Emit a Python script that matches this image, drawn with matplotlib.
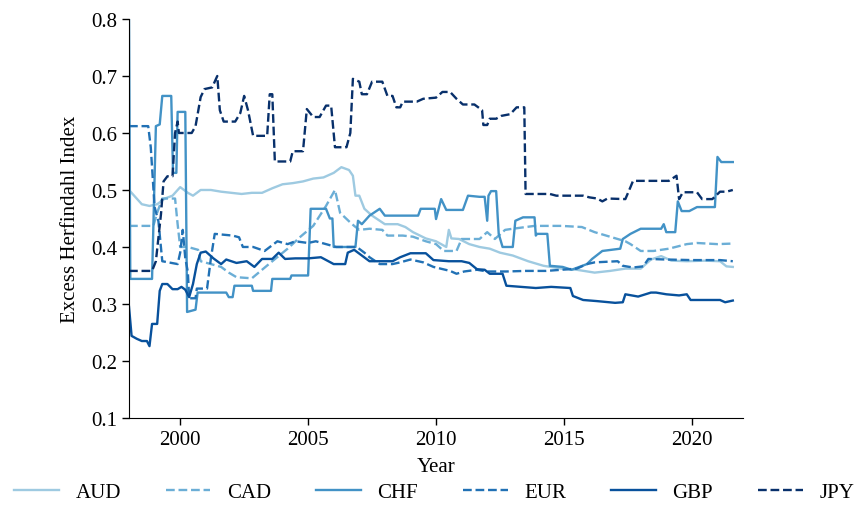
import numpy as np
import matplotlib.pyplot as plt

plt.rcParams['font.family'] = ['Liberation Serif', 'DejaVu Serif']

# (year, excess Herfindahl index) per currency
aud = [(1998.0, 0.50), (1998.3, 0.485), (1998.5, 0.475), (1998.8, 0.472), (1999.1, 0.475),
       (1999.4, 0.485), (1999.7, 0.49), (2000.0, 0.505), (2000.3, 0.495), (2000.5, 0.49),
       (2000.8, 0.50), (2001.2, 0.50), (2001.6, 0.497), (2002.0, 0.495), (2002.4, 0.493),
       (2002.8, 0.495), (2003.2, 0.495), (2003.6, 0.503), (2004.0, 0.51), (2004.4, 0.512),
       (2004.8, 0.515), (2005.2, 0.52), (2005.6, 0.522), (2006.0, 0.53), (2006.3, 0.54),
       (2006.6, 0.535), (2006.75, 0.525), (2006.85, 0.49), (2007.0, 0.49), (2007.2, 0.467),
       (2007.5, 0.455), (2008.0, 0.44), (2008.5, 0.44), (2008.8, 0.435), (2009.1, 0.426),
       (2009.6, 0.415), (2010.0, 0.41), (2010.4, 0.40), (2010.5, 0.43), (2010.6, 0.415),
       (2010.9, 0.414), (2011.3, 0.405), (2011.7, 0.40), (2012.1, 0.397), (2012.5, 0.39),
       (2013.0, 0.385), (2013.6, 0.375), (2014.2, 0.367), (2014.9, 0.362), (2015.5, 0.36),
       (2016.2, 0.355), (2016.8, 0.358), (2017.4, 0.362), (2018.0, 0.362), (2018.4, 0.378),
       (2018.8, 0.384), (2019.2, 0.376), (2019.8, 0.375), (2020.5, 0.376), (2021.1, 0.375),
       (2021.35, 0.366), (2021.6, 0.365)]

cad = [(1998.0, 0.437), (1998.95, 0.437), (1999.1, 0.46), (1999.3, 0.485), (1999.8, 0.485),
       (1999.9, 0.44), (2000.0, 0.40), (2000.3, 0.40), (2000.7, 0.395), (2000.8, 0.375),
       (2001.2, 0.37), (2001.6, 0.365), (2001.9, 0.355), (2002.2, 0.347), (2002.8, 0.345),
       (2003.2, 0.36), (2003.6, 0.375), (2004.2, 0.397), (2004.7, 0.418), (2005.2, 0.437),
       (2005.7, 0.472), (2006.05, 0.50), (2006.25, 0.46), (2006.6, 0.445), (2006.8, 0.437),
       (2007.0, 0.43), (2007.4, 0.432), (2007.9, 0.43), (2008.1, 0.42), (2008.7, 0.42),
       (2009.1, 0.418), (2009.6, 0.41), (2010.0, 0.405), (2010.3, 0.393), (2010.8, 0.393),
       (2011.0, 0.414), (2011.7, 0.414), (2012.0, 0.426), (2012.3, 0.414), (2012.7, 0.43),
       (2013.0, 0.432), (2013.85, 0.437), (2014.9, 0.437), (2015.7, 0.435), (2016.2, 0.426),
       (2016.8, 0.418), (2017.4, 0.41), (2017.6, 0.405), (2018.0, 0.393), (2018.5, 0.393),
       (2019.1, 0.397), (2019.8, 0.405), (2020.2, 0.407), (2021.0, 0.405), (2021.6, 0.406)]

chf = [(1998.0, 0.80), (1998.05, 0.344), (1998.9, 0.344), (1999.05, 0.612), (1999.2, 0.615),
       (1999.3, 0.665), (1999.65, 0.665), (1999.72, 0.53), (1999.85, 0.53), (1999.9, 0.637),
       (2000.2, 0.637), (2000.27, 0.286), (2000.6, 0.29), (2000.68, 0.32), (2001.8, 0.32),
       (2001.9, 0.312), (2002.05, 0.312), (2002.12, 0.332), (2002.8, 0.332), (2002.85, 0.323),
       (2003.55, 0.323), (2003.6, 0.344), (2004.3, 0.344), (2004.35, 0.35), (2005.0, 0.35),
       (2005.1, 0.467), (2005.7, 0.467), (2005.85, 0.45), (2005.95, 0.45), (2006.0, 0.40),
       (2006.85, 0.40), (2006.95, 0.446), (2007.1, 0.44), (2007.4, 0.455), (2007.8, 0.467),
       (2008.0, 0.455), (2009.3, 0.455), (2009.4, 0.467), (2009.95, 0.467), (2010.0, 0.449),
       (2010.2, 0.484), (2010.4, 0.465), (2011.05, 0.465), (2011.25, 0.49), (2011.7, 0.488),
       (2011.9, 0.488), (2012.0, 0.446), (2012.05, 0.49), (2012.15, 0.498), (2012.35, 0.498),
       (2012.45, 0.423), (2012.6, 0.40), (2013.0, 0.40), (2013.1, 0.446), (2013.4, 0.452),
       (2013.85, 0.452), (2013.9, 0.42), (2013.95, 0.423), (2014.35, 0.423), (2014.45, 0.367),
       (2014.95, 0.365), (2015.3, 0.36), (2015.9, 0.37), (2016.1, 0.379), (2016.5, 0.393),
       (2017.2, 0.397), (2017.3, 0.414), (2017.6, 0.423), (2018.0, 0.432), (2018.8, 0.432),
       (2018.9, 0.44), (2019.0, 0.426), (2019.35, 0.426), (2019.45, 0.48), (2019.6, 0.463),
       (2019.9, 0.463), (2020.2, 0.47), (2020.9, 0.47), (2021.0, 0.558), (2021.15, 0.549),
       (2021.6, 0.549)]

eur = [(1998.0, 0.612), (1998.75, 0.612), (1998.85, 0.575), (1999.0, 0.47), (1999.15, 0.445),
       (1999.3, 0.375), (1999.9, 0.37), (2000.0, 0.39), (2000.1, 0.43), (2000.2, 0.38),
       (2000.3, 0.356), (2000.35, 0.31), (2000.6, 0.31), (2000.65, 0.327), (2001.05, 0.327),
       (2001.2, 0.38), (2001.35, 0.423), (2002.05, 0.42), (2002.3, 0.417), (2002.45, 0.40),
       (2002.85, 0.40), (2003.3, 0.393), (2003.8, 0.41), (2004.2, 0.405), (2004.5, 0.41),
       (2005.0, 0.407), (2005.3, 0.41), (2005.7, 0.405), (2006.1, 0.40), (2006.9, 0.40),
       (2007.2, 0.39), (2007.4, 0.382), (2007.8, 0.37), (2008.3, 0.37), (2008.6, 0.373),
       (2009.0, 0.378), (2009.5, 0.373), (2009.9, 0.365), (2010.55, 0.358), (2010.8, 0.353),
       (2011.1, 0.357), (2011.6, 0.36), (2012.0, 0.357), (2012.75, 0.357), (2013.5, 0.358),
       (2014.3, 0.358), (2014.9, 0.36), (2015.5, 0.362), (2015.9, 0.37), (2016.2, 0.373),
       (2017.1, 0.375), (2017.3, 0.367), (2017.7, 0.364), (2018.1, 0.366), (2018.3, 0.379),
       (2019.0, 0.378), (2020.0, 0.377), (2021.1, 0.377), (2021.6, 0.375)]

gbp = [(1998.0, 0.295), (1998.1, 0.244), (1998.3, 0.239), (1998.5, 0.235), (1998.7, 0.235),
       (1998.8, 0.226), (1998.9, 0.265), (1999.1, 0.265), (1999.2, 0.323), (1999.3, 0.335),
       (1999.5, 0.335), (1999.7, 0.326), (1999.9, 0.326), (2000.05, 0.33), (2000.2, 0.325),
       (2000.35, 0.312), (2000.5, 0.335), (2000.65, 0.37), (2000.8, 0.39), (2001.0, 0.392),
       (2001.3, 0.38), (2001.6, 0.37), (2001.8, 0.378), (2002.2, 0.372), (2002.6, 0.375),
       (2002.9, 0.365), (2003.2, 0.379), (2003.6, 0.379), (2003.85, 0.39), (2004.1, 0.379),
       (2004.5, 0.38), (2005.0, 0.38), (2005.5, 0.382), (2006.0, 0.37), (2006.45, 0.37),
       (2006.55, 0.39), (2006.8, 0.395), (2007.1, 0.385), (2007.4, 0.375), (2008.3, 0.375),
       (2008.6, 0.382), (2009.0, 0.389), (2009.6, 0.389), (2009.9, 0.377), (2010.5, 0.375),
       (2011.0, 0.375), (2011.3, 0.372), (2011.6, 0.361), (2011.9, 0.36), (2012.1, 0.353),
       (2012.6, 0.353), (2012.75, 0.332), (2013.9, 0.328), (2014.5, 0.33), (2015.25, 0.328),
       (2015.35, 0.314), (2015.75, 0.307), (2016.3, 0.305), (2017.0, 0.302), (2017.3, 0.303),
       (2017.4, 0.317), (2017.9, 0.313), (2018.4, 0.32), (2018.6, 0.32), (2019.0, 0.317),
       (2019.5, 0.315), (2019.8, 0.317), (2019.95, 0.307), (2021.1, 0.307), (2021.3, 0.303),
       (2021.6, 0.306)]

jpy = [(1998.0, 0.358), (1998.9, 0.358), (1999.05, 0.375), (1999.25, 0.458), (1999.35, 0.515),
       (1999.5, 0.524), (1999.7, 0.524), (1999.8, 0.60), (1999.9, 0.62), (1999.95, 0.60),
       (2000.45, 0.60), (2000.6, 0.612), (2000.8, 0.663), (2000.95, 0.677), (2001.25, 0.68),
       (2001.45, 0.70), (2001.55, 0.64), (2001.7, 0.62), (2002.15, 0.62), (2002.35, 0.635),
       (2002.5, 0.665), (2002.65, 0.64), (2002.85, 0.595), (2003.4, 0.595), (2003.5, 0.668),
       (2003.6, 0.668), (2003.7, 0.55), (2004.3, 0.55), (2004.4, 0.568), (2004.8, 0.568),
       (2004.95, 0.642), (2005.2, 0.628), (2005.45, 0.628), (2005.7, 0.648), (2005.9, 0.648),
       (2006.05, 0.575), (2006.5, 0.575), (2006.65, 0.60), (2006.75, 0.695), (2007.0, 0.69),
       (2007.1, 0.668), (2007.3, 0.668), (2007.5, 0.69), (2007.9, 0.69), (2008.1, 0.665),
       (2008.3, 0.665), (2008.45, 0.645), (2008.6, 0.645), (2008.7, 0.655), (2009.25, 0.655),
       (2009.5, 0.66), (2010.0, 0.662), (2010.25, 0.672), (2010.55, 0.672), (2010.8, 0.66),
       (2011.05, 0.65), (2011.5, 0.65), (2011.8, 0.64), (2011.85, 0.614), (2012.0, 0.614),
       (2012.1, 0.625), (2012.35, 0.625), (2012.55, 0.63), (2012.9, 0.633), (2013.15, 0.645),
       (2013.45, 0.645), (2013.5, 0.493), (2014.45, 0.493), (2014.7, 0.49), (2015.75, 0.49),
       (2016.0, 0.487), (2016.3, 0.485), (2016.5, 0.48), (2016.7, 0.485), (2017.4, 0.484),
       (2017.6, 0.505), (2017.7, 0.516), (2019.1, 0.516), (2019.4, 0.525), (2019.5, 0.484),
       (2019.65, 0.496), (2020.2, 0.496), (2020.4, 0.484), (2020.8, 0.484), (2021.1, 0.497),
       (2021.35, 0.497), (2021.6, 0.50)]

currencies = ["AUD", "CAD", "CHF", "EUR", "GBP", "JPY"]
series = [aud, cad, chf, eur, gbp, jpy]
colors = ["#9ecae1", "#6baed6", "#4292c6", "#2171b5", "#08519c", "#08306b"]
styles = ["-", "--", "-", "--", "-", "--"]

fig, ax = plt.subplots(figsize=(8.63, 5.06), dpi=100)
fig.subplots_adjust(left=0.1495, right=0.861, bottom=0.172, top=0.9605)

for name, data, c, ls in zip(currencies, series, colors, styles):
    t, v = np.array(data).T
    ax.plot(t, v, color=c, linestyle=ls, linewidth=1.7, label=name)

ax.set_xlim(1998, 2022)
ax.set_ylim(0.1, 0.8)
ax.set_xticks([2000, 2005, 2010, 2015, 2020])
ax.set_yticks(np.arange(0.1, 0.81, 0.1))
ax.set_yticklabels([f"{y:.1f}" for y in np.arange(0.1, 0.81, 0.1)])
ax.tick_params(labelsize=15, length=5, width=1)
ax.set_xlabel("Year", fontsize=15, labelpad=6)
ax.set_ylabel("Excess Herfindahl Index", fontsize=15, labelpad=8)
for side in ["top", "right"]:
    ax.spines[side].set_visible(False)

fig.legend(loc="lower center", bbox_to_anchor=(0.503, -0.032), ncol=6, frameon=False,
           fontsize=15, handlelength=2.15, handletextpad=0.8, columnspacing=2.15)

plt.savefig("out.png")
